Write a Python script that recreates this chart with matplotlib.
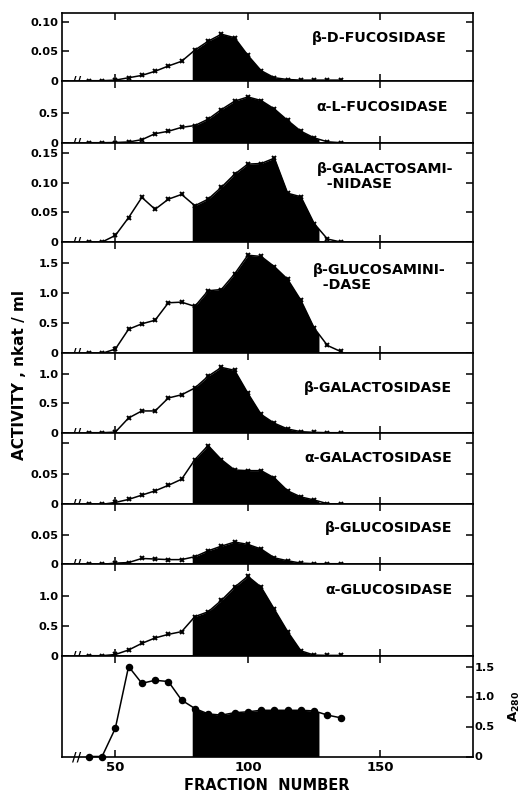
import numpy as np
import matplotlib
matplotlib.use("Agg")
import matplotlib.pyplot as plt

plt.rcParams['font.family'] = ['DejaVu Sans']
plt.rcParams['font.weight'] = 'bold'

# ---------------- data ----------------
fractions = [40, 45, 50, 55, 60, 65, 70, 75, 80, 85, 90, 95, 100, 105, 110, 115, 120, 125, 130, 135]

beta_d_fucosidase = [0, 0, 0.001, 0.005, 0.009, 0.016, 0.025, 0.033, 0.052, 0.067, 0.079, 0.073,
                     0.043, 0.017, 0.005, 0.002, 0.001, 0.001, 0.001, 0.001]
alpha_l_fucosidase = [0, 0, 0.003, 0.012, 0.05, 0.15, 0.19, 0.255, 0.285, 0.39, 0.55, 0.69,
                      0.76, 0.70, 0.56, 0.37, 0.19, 0.08, 0.015, 0.0]
beta_galactosaminidase = [0, 0, 0.011, 0.041, 0.075, 0.055, 0.072, 0.080, 0.061, 0.072, 0.092, 0.114,
                          0.131, 0.132, 0.141, 0.082, 0.076, 0.031, 0.005, 0]
beta_glucosaminidase = [0, 0, 0.07, 0.40, 0.49, 0.55, 0.84, 0.85, 0.78, 1.04, 1.06, 1.32,
                        1.63, 1.61, 1.44, 1.23, 0.88, 0.42, 0.13, 0.03]
beta_galactosidase = [0, 0, 0.01, 0.25, 0.37, 0.37, 0.59, 0.645, 0.76, 0.96, 1.11, 1.06,
                      0.67, 0.31, 0.16, 0.063, 0.017, 0.006, 0.0, 0.0]
alpha_galactosidase = [0, 0, 0.003, 0.008, 0.015, 0.022, 0.031, 0.041, 0.073, 0.096, 0.073, 0.056,
                       0.055, 0.055, 0.043, 0.022, 0.012, 0.007, 0.001, 0]
beta_glucosidase = [0, 0, 0.002, 0.003, 0.010, 0.009, 0.008, 0.008, 0.013, 0.023, 0.031, 0.038,
                    0.034, 0.026, 0.011, 0.006, 0.002, 0.001, 0.001, 0.001]
alpha_glucosidase = [0, 0, 0.02, 0.095, 0.205, 0.295, 0.355, 0.40, 0.65, 0.73, 0.92, 1.14,
                     1.32, 1.14, 0.77, 0.40, 0.08, 0.01, 0.005, 0.005]
a280 = [0, 0, 0.47, 1.50, 1.22, 1.27, 1.25, 0.94, 0.80, 0.71, 0.69, 0.73,
        0.745, 0.77, 0.77, 0.77, 0.77, 0.76, 0.69, 0.645]

pool_start, pool_end = 79.0, 126.8   # pooled fractions (black area)

enzyme_labels = ['β-D-FUCOSIDASE', 'α-L-FUCOSIDASE', 'β-GALACTOSAMI-\n  -NIDASE',
                 'β-GLUCOSAMINI-\n  -DASE', 'β-GALACTOSIDASE', 'α-GALACTOSIDASE',
                 'β-GLUCOSIDASE', 'α-GLUCOSIDASE']
enzyme_series = [beta_d_fucosidase, alpha_l_fucosidase, beta_galactosaminidase,
                 beta_glucosaminidase, beta_galactosidase, alpha_galactosidase,
                 beta_glucosidase, alpha_glucosidase]
y_tops = [0.115, 1.03, 0.167, 1.85, 1.35, 0.117, 0.1025, 1.52]
y_ticks = [[0, 0.05, 0.10], [0, 0.5], [0, 0.05, 0.10, 0.15], [0, 0.5, 1.0, 1.5],
           [0, 0.5, 1.0], [0, 0.05, 0.10], [0, 0.05], [0, 0.5, 1.0]]
y_ticklabels = [['0', '0.05', '0.10'], ['0', '0.5'], ['0', '0.05', '0.10', '0.15'],
                ['0', '0.5', '1.0', '1.5'], ['0', '0.5', '1.0'], ['0', '0.05', ''],
                ['0', '0.05'], ['0', '0.5', '1.0']]
a280_ticks = [0, 0.5, 1.0, 1.5]
a280_ticklabels = ['0', '0.5', '1.0', '1.5']
x_ticks = [50, 100, 150]

# ---------------- layout ----------------
W, H = 524, 793
left_px, right_px = 61.5, 473
edges = [13, 80.7, 142.7, 242, 353.3, 432.7, 504.3, 564.3, 655.7, 756.5]
label_pos = [(0.937, 0.626, 'right'), (0.939, 0.57, 'right'), (0.621, 0.66, 'left'),
             (0.612, 0.68, 'left'), (0.949, 0.56, 'right'), (0.949, 0.64, 'right'),
             (0.949, 0.60, 'right'), (0.949, 0.72, 'right')]

fig = plt.figure(figsize=(W / 100, H / 100), dpi=100)
x = np.array(fractions, dtype=float)


def make_ax(i):
    top, bot = edges[i], edges[i + 1]
    ax = fig.add_axes([left_px / W, 1 - bot / H, (right_px - left_px) / W, (bot - top) / H])
    ax.set_xlim(29.7, 184.9)
    ax.set_xticks(x_ticks)
    ax.tick_params(axis='x', which='both', top=True, bottom=True, direction='in',
                   length=5, width=1.1, labelbottom=False, pad=3)
    for s in ax.spines.values():
        s.set_linewidth(1.2)
    return ax


def draw_series(ax, y, marker, ms):
    y = np.array(y, dtype=float)
    inside = (x > pool_start) & (x < pool_end)
    xf = np.concatenate([[pool_start], x[inside], [pool_end]])
    yf = np.interp(xf, x, y)
    ax.fill_between(xf, 0, yf, color='black', lw=0, zorder=1)
    ax.plot(x, y, color='black', lw=1.1, marker=marker, ms=ms, mew=1.4,
            mfc='black', mec='black', zorder=3, clip_on=False)
    ax.text(35.3, 0, '//', ha='center', va='center', fontsize=9,
            fontweight='bold', zorder=4)


for i, (series, label) in enumerate(zip(enzyme_series, enzyme_labels)):
    ax = make_ax(i)
    ax.set_ylim(0, y_tops[i])
    draw_series(ax, series, 'x', 3.2)
    ax.set_yticks(y_ticks[i])
    ax.set_yticklabels(y_ticklabels[i], fontsize=8.2, fontweight='bold')
    ax.tick_params(axis='y', left=True, right=True, direction='in', length=5,
                   width=1.1, pad=2)
    lx, ly, ha = label_pos[i]
    ax.text(lx, ly, label, transform=ax.transAxes, ha=ha, va='center',
            fontsize=10.2, fontweight='bold', linespacing=1.05)

# bottom A280 panel
ax = make_ax(8)
ax.set_ylim(0, 1.68)
draw_series(ax, a280, 'o', 4.0)
ax.yaxis.tick_right()
ax.set_yticks(a280_ticks)
ax.set_yticklabels(a280_ticklabels, fontsize=8.2, fontweight='bold')
ax.tick_params(axis='y', left=False, right=True, direction='in', length=5, width=1.1, pad=1)
ax.tick_params(axis='x', labelbottom=True, labelsize=9.5, top=True)
for t in ax.get_xticklabels():
    t.set_fontweight('bold')

fig.text(514.5 / W, 1 - 706 / H, r'$\mathbf{A_{280}}$', rotation=90, ha='center',
         va='center', fontsize=9.5)
fig.text(0.038, 0.527, 'ACTIVITY , nkat / ml', rotation=90, ha='center', va='center',
         fontsize=11, fontweight='bold')
fig.text(266.5 / W, 1 - 786 / H, 'FRACTION  NUMBER', ha='center', va='center',
         fontsize=10.5, fontweight='bold')

fig.savefig('out.png', dpi=100, facecolor='white')
